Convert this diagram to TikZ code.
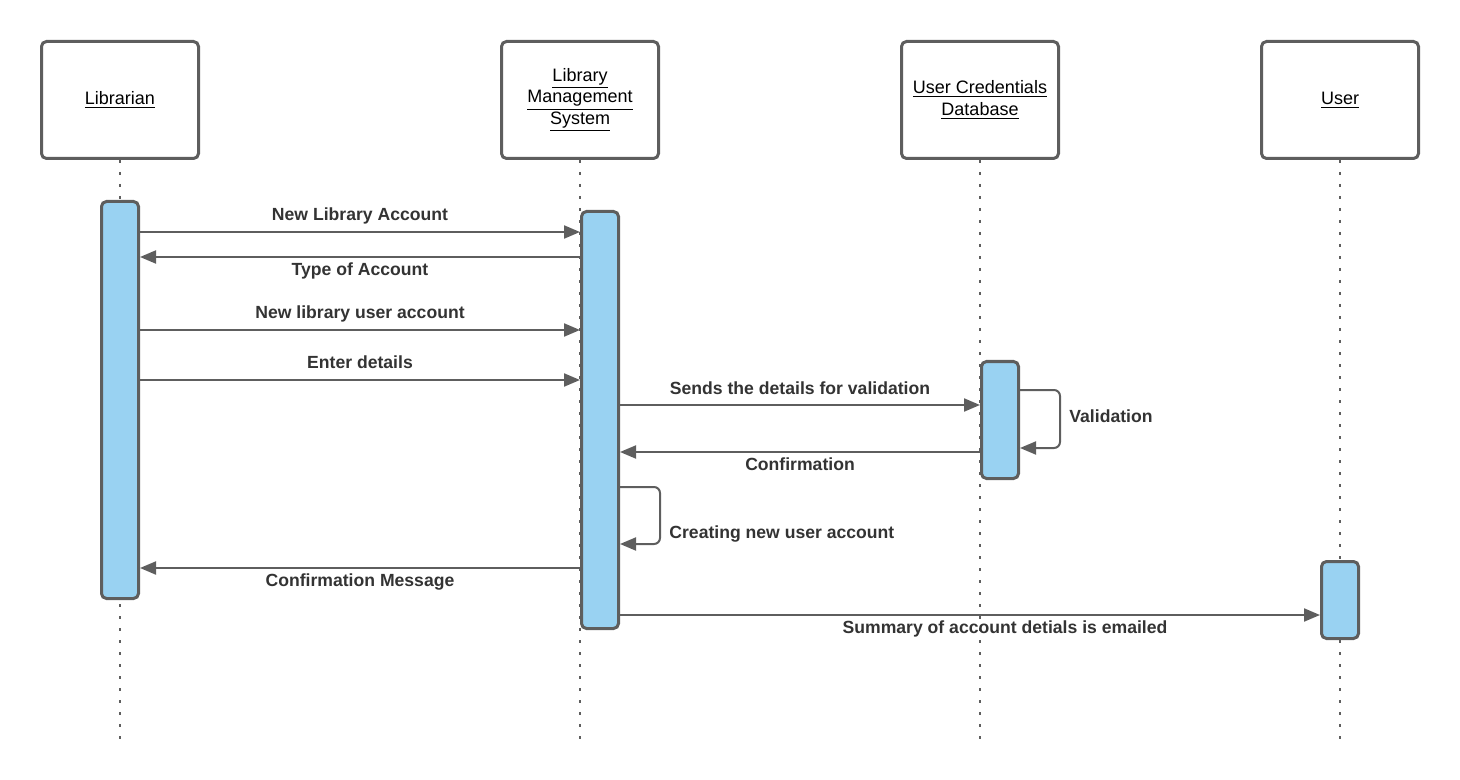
\documentclass[tikz,border=0pt]{standalone}
\usepackage{fontspec}
\setmainfont{Liberation Sans}
\usetikzlibrary{arrows.meta,positioning,calc}
\definecolor{linegray}{HTML}{5E5E5E}
\definecolor{actblue}{HTML}{99D2F2}
\definecolor{txtgray}{HTML}{333333}

\begin{document}
\begin{tikzpicture}[x=0.5pt,y=-0.5pt,
    head/.style={draw=linegray, line width=1.5pt, rounded corners=2.5pt, fill=white,
        minimum width=78.5pt, minimum height=58.5pt, align=center, inner sep=0pt,
        font=\fontsize{9}{10.75}\selectfont},
    act/.style={draw=linegray, line width=1.5pt, rounded corners=2.5pt, fill=actblue,
        minimum width=18.5pt, inner sep=0pt},
    lifeline/.style={draw=linegray, line width=1pt, dash pattern=on 1.5pt off 4.5pt},
    msg/.style={draw=linegray, line width=1pt, -{Triangle[length=8pt,width=6.5pt]}},
    lbl/.style={font=\bfseries\fontsize{8.8}{10}\selectfont, text=txtgray, inner sep=0pt,
        text height=6.5pt, text depth=2pt},
    up/.style={lbl, above=3pt},
    down/.style={lbl, below=2.4pt}]
    \useasboundingbox (0,0) rectangle (1460,780);

    \node[head] (lib) at (120,100) {\underline{Librarian}};
    \node[head] (lms) at (580,100) {\underline{Library}\\\underline{Management}\\\underline{System}};
    \node[head] (ucd) at (980,100) {\underline{User Credentials}\\\underline{Database}};
    \node[head] (usr) at (1340,100) {\underline{User}};

    \coordinate (libend) at (120,740);
    \coordinate (lmsend) at (580,740);
    \coordinate (ucdend) at (980,740);
    \coordinate (usrend) at (1340,740);
    \draw[lifeline] (lib) -- (libend);
    \draw[lifeline] (lms) -- (lmsend);
    \draw[lifeline] (ucd) -- (ucdend);
    \draw[lifeline] (usr) -- (usrend);

    \node[act, minimum height=198.5pt] (libact) at (120,400) {};
    \node[act, minimum height=208.5pt] (lmsact) at (600,420) {};
    \node[act, minimum height=58.5pt] (ucdact) at (1000,420) {};
    \node[act, minimum height=38.5pt] (usract) at (1340,600) {};

    \coordinate (m1) at (0,232);
    \coordinate (m2) at (0,257);
    \coordinate (m3) at (0,330);
    \coordinate (m4) at (0,380);
    \coordinate (m5) at (0,405);
    \coordinate (m7) at (0,452);
    \coordinate (m9) at (0,568);
    \coordinate (m10) at (0,615);

    \draw[msg] (libact.east |- m1) -- node[up] (t1) {New Library Account} (lmsact.west |- m1);
    \draw[msg] (lmsact.west |- m2) -- node[down] (t2) {Type of Account} (libact.east |- m2);
    \draw[msg] (libact.east |- m3) -- node[up] (t3) {New library user account} (lmsact.west |- m3);
    \draw[msg] (libact.east |- m4) -- node[up] (t4) {Enter details} (lmsact.west |- m4);
    \draw[msg] (lmsact.east |- m5) -- node[up] (t5) {Sends the details for validation} (ucdact.west |- m5);

    \coordinate (v1) at (1060,390);
    \coordinate (v2) at (1060,448);
    \draw[msg, rounded corners=3pt] (ucdact.east |- v1) -- (v1) -- (v2) -- (ucdact.east |- v2);
    \node[lbl, anchor=west] (t6) at (1069,418) {Validation};

    \draw[msg] (ucdact.west |- m7) -- node[down] (t7) {Confirmation} (lmsact.east |- m7);

    \coordinate (c1) at (660,487);
    \coordinate (c2) at (660,544);
    \draw[msg, rounded corners=3pt] (lmsact.east |- c1) -- (c1) -- (c2) -- (lmsact.east |- c2);
    \node[lbl, anchor=west] (t8) at (669,534) {Creating new user account};

    \draw[msg] (lmsact.west |- m9) -- node[down] (t9) {Confirmation Message} (libact.east |- m9);
    \draw[msg] (lmsact.east |- m10) -- node[down, pos=0.55] (t10) {Summary of account detials is emailed} (usract.west |- m10);
\end{tikzpicture}
\end{document}
